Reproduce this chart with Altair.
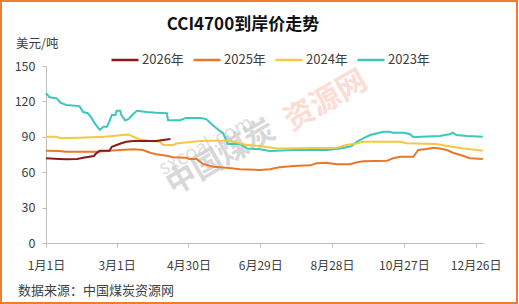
import altair as alt
import pandas as pd

FONT = "Noto Sans CJK SC"

years = ["2026年", "2025年", "2024年", "2023年"]
colors = ["#8B1A1A", "#E8782A", "#F5C842", "#3CC6BC"]

days_2023 = [0, 3, 9, 12, 17, 28, 31, 35, 38, 41, 45, 48, 51, 53, 55, 58, 59, 62, 63, 66, 69, 72, 76, 84, 92, 101, 102, 112, 117, 129, 134, 138, 144, 148, 152, 162, 168, 179, 187, 207, 235, 246, 255, 260, 265, 271, 282, 287, 290, 299, 304, 307, 313, 329, 338, 340, 343, 352, 365]
vals_2023 = [127, 123.5, 122.6, 119, 117, 116, 111, 110, 106, 101, 96, 98.6, 98.6, 103, 108.5, 108.5, 112, 112, 108.5, 104, 105, 108.5, 112, 111, 110.4, 110, 104, 104, 106, 106, 105, 101, 96, 93, 84, 84, 80, 79.4, 78, 78.8, 78.8, 80, 82, 86, 88.7, 91.5, 94.3, 94.3, 93.5, 93.5, 92.4, 89.6, 90, 90.7, 92.4, 93.5, 91.5, 90.7, 90]

days_2024 = [0, 9, 12, 28, 48, 56, 64, 69, 73, 78, 87, 95, 98, 106, 110, 129, 134, 154, 162, 168, 179, 193, 243, 251, 260, 265, 296, 301, 326, 335, 349, 360, 365]
vals_2024 = [90, 90, 88.7, 89.2, 90, 90.7, 91.5, 92, 90, 88, 86.4, 85.8, 83, 83, 84.5, 86.4, 86.7, 86.7, 84.5, 83, 82.2, 80, 80.8, 83, 84.5, 85.8, 85.8, 84.5, 83.9, 82.2, 80, 78.8, 78.2]

days_2025 = [0, 11, 17, 42, 53, 62, 73, 81, 87, 92, 101, 106, 117, 120, 126, 131, 140, 151, 162, 179, 187, 195, 207, 221, 226, 234, 243, 254, 260, 265, 285, 290, 296, 307, 311, 318, 324, 329, 335, 340, 349, 354, 365]
vals_2025 = [78.2, 78, 77.4, 77.4, 78.2, 78.8, 79.4, 78.8, 76.5, 75.2, 74, 72.6, 72.3, 71.2, 71.2, 67, 64.7, 63.8, 62.5, 61.9, 62.5, 64.2, 65.3, 65.8, 67.5, 68, 66.7, 66.7, 68.4, 69.2, 69.8, 71.8, 73.1, 73.1, 78.8, 79.7, 80.8, 80, 78.8, 76.5, 73.7, 71.8, 71.2]

days_2026 = [0, 11, 17, 26, 31, 40, 42, 45, 53, 55, 59, 63, 67, 73, 92, 98, 104]
vals_2026 = [71.8, 71.2, 70.9, 71.2, 72.3, 73.7, 76, 78.2, 78.2, 81.6, 83, 84.5, 85.8, 86.4, 86.4, 87.3, 88.1]

tick_days = [0, 59, 119, 179, 239, 299, 359]
tick_labels = ["1月1日", "3月1日", "4月30日", "6月29日", "8月28日", "10月27日", "12月26日"]
y_ticks = [0, 30, 60, 90, 120, 150]

rows = []
for yr, ds, vs in [("2023年", days_2023, vals_2023), ("2024年", days_2024, vals_2024),
                   ("2025年", days_2025, vals_2025), ("2026年", days_2026, vals_2026)]:
    for d, v in zip(ds, vs):
        rows.append({"year": yr, "day": d, "price": v})
df = pd.DataFrame(rows)

label_expr = "{" + ",".join(f"'{d}':'{l}'" for d, l in zip(tick_days, tick_labels)) + "}[datum.value]"

lines = alt.Chart(df).mark_line(strokeWidth=2, interpolate="linear").encode(
    x=alt.X("day:Q", scale=alt.Scale(domain=[0, 366], nice=False, zero=False),
            axis=alt.Axis(values=tick_days, labelExpr=label_expr, title=None, grid=False,
                          domainColor="#BFBFBF", tickColor="#BFBFBF", tickSize=4,
                          labelColor="#404040", labelFontSize=12, labelFont=FONT,
                          labelPadding=13, labelFlush=False)),
    y=alt.Y("price:Q", scale=alt.Scale(domain=[0, 150], nice=False),
            axis=alt.Axis(values=y_ticks, title=None, grid=False,
                          domainColor="#BFBFBF", tickColor="#BFBFBF", tickSize=4,
                          labelColor="#404040", labelFontSize=12.5, labelFont=FONT,
                          labelPadding=7)),
    color=alt.Color("year:N", scale=alt.Scale(domain=years, range=colors),
                    legend=alt.Legend(title=None, orient="none", direction="horizontal",
                                      legendX=64, legendY=-21, symbolType="stroke",
                                      symbolSize=729, symbolStrokeWidth=2.5,
                                      labelFontSize=13, labelFont=FONT, labelColor="#404040",
                                      labelOffset=2, columnPadding=4, gridAlign="each")),
    order=alt.Order("day:Q"),
)

def txt(s, x, y, **kw):
    return alt.Chart(pd.DataFrame({"t": [s]})).mark_text(font=FONT, **kw).encode(
        text="t:N", x=alt.value(x), y=alt.value(y))

title = txt("CCI4700到岸价走势", 197, -41, fontSize=17, fontWeight="bold", color="#111111", align="center", baseline="middle")
unit = txt("美元/吨", -30, -22, fontSize=12.5, color="#404040", align="left", baseline="middle")
source = txt("数据来源：中国煤炭资源网", -28, 225, fontSize=13, color="#404040", align="left", baseline="middle")

wm1 = txt("sxcoal.com", 160, 80, fontSize=20, color="#D8D8D8", angle=332, align="center", baseline="middle", opacity=0.8)
wm2 = txt("中国煤炭", 175, 92, fontSize=30, fontWeight="bold", color="#C8C8C8", angle=330, align="center", baseline="middle", opacity=0.7)
wm3 = txt("资源网", 280, 35, fontSize=30, fontWeight="bold", color="#F8C8B8", angle=330, align="center", baseline="middle", opacity=0.6)

border = alt.Chart(pd.DataFrame({"a": [0]})).mark_rect(fill=None, stroke="#ED7D31", strokeWidth=2, clip=False).encode(
    x=alt.value(-45), x2=alt.value(471), y=alt.value(-65), y2=alt.value(237))

chart = alt.layer(wm1, wm2, wm3, lines, title, unit, source, border).properties(
    width=438, height=177,
    autosize=alt.AutoSizeParams(type="none"),
    padding={"left": 46, "top": 66, "right": 35, "bottom": 61},
    background="white",
).configure_view(stroke=None)

chart.save("out.html", embed_options={"renderer": "svg", "actions": False})
